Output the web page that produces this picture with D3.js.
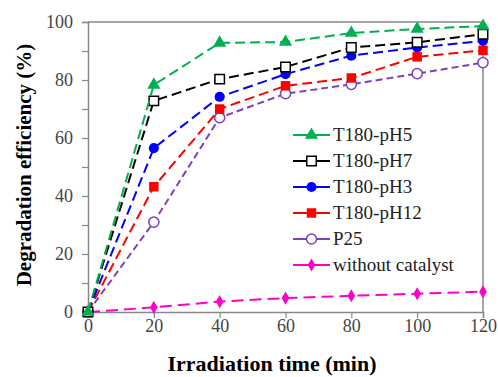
<!DOCTYPE html>
<html>
<head>
<meta charset="utf-8">
<script src="https://cdn.jsdelivr.net/npm/d3@7"></script>
<style>
  body { margin: 0; background: #fff; }
  svg { display: block; font-family: "Liberation Serif", "Times New Roman", serif; }
</style>
</head>
<body>
<svg id="chart" width="498" height="377"></svg>
<script>
const times = [0, 20, 40, 60, 80, 100, 120];
const xTicks = [0, 20, 40, 60, 80, 100, 120];
const yTicks = [0, 20, 40, 60, 80, 100];
const seriesNames = ['T180-pH5', 'T180-pH7', 'T180-pH3', 'T180-pH12', 'P25', 'without catalyst'];
const pH5 = [0, 78.3, 92.8, 93.1, 96.2, 97.6, 98.6];
const pH7 = [0, 72.8, 80.3, 84.5, 91.2, 93.0, 95.8];
const pH3 = [0, 56.5, 74.2, 82.0, 88.4, 91.2, 93.5];
const pH12 = [0, 43.2, 70.0, 78.0, 80.7, 88.0, 90.2];
const p25 = [0, 31.0, 67.0, 75.3, 78.5, 82.2, 86.0];
const noCat = [0, 1.6, 3.6, 4.8, 5.6, 6.3, 7.0];

const COLOR = ['#00b050', '#000000', '#0000ff', '#ff0000', '#7f3fbf', '#ff00cc'];
const DASH = ['10,5', '10,5', '10,5', '10,5', '7,4', '12,6'];
const SYMBOL = ['triangle', 'square', 'circle', 'square', 'circle', 'diamond'];
const FILLED = [true, false, true, true, false, true];

const svg = d3.select('#chart');
const margin = { left: 88, right: 15, top: 22, bottom: 65 };
const width = 498, height = 377;

const x = d3.scaleLinear().domain([0, 120]).range([margin.left, width - margin.right]);
const y = d3.scaleLinear().domain([0, 100]).range([height - margin.bottom, margin.top]);

const axisColor = '#888';
const serif = '"Liberation Serif", "Times New Roman", serif';

// frame: top and right
svg.append('line')
    .attr('x1', x(0)).attr('x2', x(120)).attr('y1', y(100)).attr('y2', y(100))
    .attr('stroke', axisColor).attr('stroke-width', 1.5);
svg.append('line')
    .attr('x1', x(120)).attr('x2', x(120)).attr('y1', y(0)).attr('y2', y(100))
    .attr('stroke', axisColor).attr('stroke-width', 1.5);

// y axis, minor ticks every 10
const yAxis = svg.append('g')
    .attr('transform', `translate(${x(0)},0)`)
    .call(d3.axisLeft(y).tickValues(d3.range(0, 101, 10)).tickSize(6)
        .tickFormat(d => yTicks.includes(d) ? d : ''));
yAxis.selectAll('text').attr('font-size', 18).attr('fill', '#444').attr('dx', -6)
    .attr('font-family', serif);

// x axis
const xAxis = svg.append('g')
    .attr('transform', `translate(0,${y(0)})`)
    .call(d3.axisBottom(x).tickValues(xTicks).tickSize(6));
xAxis.selectAll('text').attr('font-size', 18).attr('fill', '#444').attr('dy', '0.6em')
    .attr('font-family', serif);

[yAxis, xAxis].forEach(a => {
    a.attr('font-family', serif);
    a.select('.domain').attr('stroke', axisColor).attr('stroke-width', 1.5);
    a.selectAll('.tick line').attr('stroke', axisColor).attr('stroke-width', 1.2);
});

// titles
svg.append('text')
    .attr('x', 272).attr('y', 371)
    .attr('text-anchor', 'middle')
    .attr('font-size', 22).attr('font-weight', 'bold')
    .text('Irradiation time (min)');
svg.append('text')
    .attr('transform', `translate(31,${(y(0) + y(100)) / 2 - 2}) rotate(-90)`)
    .attr('text-anchor', 'middle')
    .attr('font-size', 21).attr('font-weight', 'bold')
    .text('Degradation efficiency (%)');

const allSeries = [pH5, pH7, pH3, pH12, p25, noCat];

function symbolPath(kind) {
    if (kind === 'triangle') return d3.symbol().type(d3.symbolTriangle).size(75)();
    if (kind === 'square') return d3.symbol().type(d3.symbolSquare).size(90)();
    if (kind === 'circle') return d3.symbol().type(d3.symbolCircle).size(80)();
    return d3.symbol().type(d3.symbolDiamond).size(50)();
}

const line = d3.line().x((d, i) => x(times[i])).y(d => y(d));

// draw back to front
const order = [5, 4, 3, 2, 1, 0];
order.forEach(k => {
    const g = svg.append('g');
    g.append('path')
        .datum(allSeries[k])
        .attr('d', line)
        .attr('fill', 'none')
        .attr('stroke', COLOR[k])
        .attr('stroke-width', 2)
        .attr('stroke-dasharray', DASH[k]);
    g.selectAll('path.pt')
        .data(allSeries[k])
        .enter().append('path')
        .attr('class', 'pt')
        .attr('transform', (d, i) => `translate(${x(times[i])},${y(d)})`)
        .attr('d', symbolPath(SYMBOL[k]))
        .attr('fill', FILLED[k] ? COLOR[k] : '#fff')
        .attr('stroke', COLOR[k])
        .attr('stroke-width', FILLED[k] ? 0 : 1.5);
});

// legend
const legend = svg.append('g').attr('transform', 'translate(293,135)');
seriesNames.forEach((name, k) => {
    const row = legend.append('g').attr('transform', `translate(0,${k * 26})`);
    row.append('line')
        .attr('x1', 0).attr('x2', 37).attr('y1', 0).attr('y2', 0)
        .attr('stroke', COLOR[k]).attr('stroke-width', 2);
    row.append('path')
        .attr('transform', 'translate(18.5,0)')
        .attr('d', symbolPath(SYMBOL[k]))
        .attr('fill', FILLED[k] ? COLOR[k] : '#fff')
        .attr('stroke', COLOR[k])
        .attr('stroke-width', FILLED[k] ? 0 : 1.5);
    row.append('text')
        .attr('x', 40).attr('y', 6)
        .attr('font-size', 19)
        .attr('font-family', serif)
        .attr('fill', '#222')
        .text(name);
});
</script>
</body>
</html>
